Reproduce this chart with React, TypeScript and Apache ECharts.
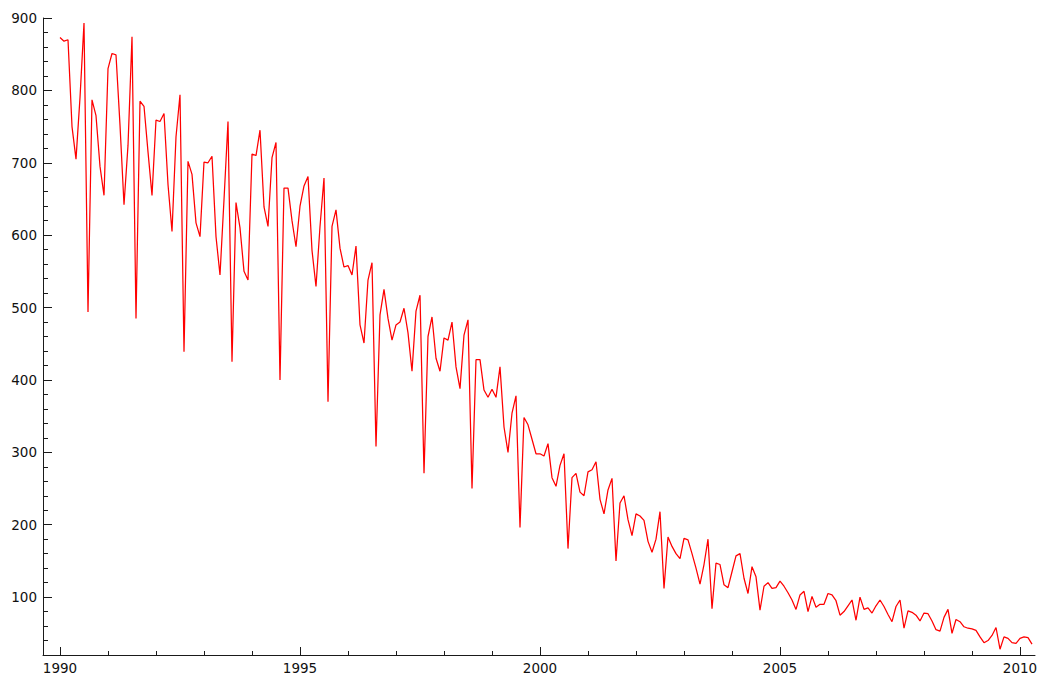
import React, { useEffect, useRef } from "react";
import * as echarts from "echarts";

const START_YEAR = 1990;

// Monthly values, Jan..Dec of each year
const y1990 = [873, 868, 870, 750, 705, 790, 893, 494, 787, 765, 695, 655];
const y1991 = [830, 851, 849, 752, 642, 724, 874, 485, 785, 778, 715, 655];
const y1992 = [759, 757, 768, 670, 605, 736, 794, 439, 702, 684, 617, 598];
const y1993 = [701, 700, 709, 598, 545, 649, 757, 425, 645, 610, 550, 538];
const y1994 = [712, 710, 745, 639, 612, 707, 728, 400, 665, 665, 620, 584];
const y1995 = [640, 668, 681, 579, 529, 612, 679, 370, 612, 635, 582, 556];
const y1996 = [558, 545, 585, 476, 451, 538, 562, 308, 490, 525, 485, 455];
const y1997 = [476, 480, 499, 465, 412, 495, 517, 271, 460, 487, 430, 412];
const y1998 = [458, 455, 480, 418, 388, 462, 483, 250, 428, 428, 386, 376];
const y1999 = [387, 376, 418, 335, 300, 354, 378, 196, 348, 338, 318, 298];
const y2000 = [298, 295, 312, 265, 253, 282, 298, 167, 265, 271, 245, 240];
const y2001 = [273, 276, 287, 235, 215, 248, 264, 150, 230, 240, 207, 185];
const y2002 = [215, 212, 206, 177, 162, 180, 218, 112, 183, 170, 160, 153];
const y2003 = [181, 179, 160, 140, 118, 145, 180, 84, 147, 145, 117, 113];
const y2004 = [135, 157, 160, 126, 105, 142, 128, 82, 115, 120, 112, 113];
const y2005 = [122, 115, 106, 96, 83, 103, 108, 80, 101, 86, 90, 90];
const y2006 = [105, 103, 95, 75, 80, 88, 96, 68, 100, 83, 85, 78];
const y2007 = [88, 96, 87, 76, 66, 87, 96, 57, 81, 79, 75, 67];
const y2008 = [78, 77, 67, 55, 53, 72, 83, 50, 69, 66, 59, 57];
const y2009 = [56, 54, 45, 37, 40, 47, 58, 28, 45, 43, 37, 36];
const y2010 = [43, 45, 44, 35];

const yearly = [
  y1990, y1991, y1992, y1993, y1994, y1995, y1996, y1997, y1998, y1999, y2000,
  y2001, y2002, y2003, y2004, y2005, y2006, y2007, y2008, y2009, y2010,
];

const xMajorTicks = [1990, 1995, 2000, 2005, 2010];
const xMinorTicks = [
  1991, 1992, 1993, 1994, 1996, 1997, 1998, 1999, 2001, 2002, 2003, 2004,
  2006, 2007, 2008, 2009,
];
const yMajorTicks = [100, 200, 300, 400, 500, 600, 700, 800, 900];
const yMinorTicks: number[] = [];
for (let v = 40; v <= 900; v += 20) if (v % 100 !== 0) yMinorTicks.push(v);

const X_MIN = 1989.6458;
const X_MAX = 2010.3125;
const Y_MIN = 20;
const Y_MAX = 900;

const AXIS_COLOR = "#1a1a1a";
const FONT = "DejaVu Sans";

export default function App() {
  const ref = useRef<HTMLDivElement>(null);
  useEffect(() => {
    const chart = echarts.init(ref.current!, null, { renderer: "svg" });
    const data: number[][] = [];
    yearly.forEach((vals, yi) =>
      vals.forEach((v, mi) => data.push([START_YEAR + yi + mi / 12, v]))
    );
    const baseX = {
      type: "value",
      min: X_MIN,
      max: X_MAX,
      position: "bottom",
      splitLine: { show: false },
    };
    const baseY = {
      type: "value",
      min: Y_MIN,
      max: Y_MAX,
      position: "left",
      splitLine: { show: false },
    };
    chart.setOption({
      animation: false,
      backgroundColor: "#ffffff",
      grid: { left: 43, right: 8, top: 18, bottom: 25, containLabel: false },
      xAxis: [
        {
          ...baseX,
          axisLine: { show: true, onZero: false, lineStyle: { color: AXIS_COLOR, width: 1 } },
          axisTick: {
            show: true,
            inside: true,
            length: 8,
            customValues: xMajorTicks,
            lineStyle: { color: AXIS_COLOR, width: 1 },
          },
          axisLabel: {
            show: true,
            customValues: xMajorTicks,
            formatter: (v: number) => String(Math.round(v)),
            fontFamily: FONT,
            fontSize: 13.5,
            color: "#111",
            margin: 6,
          },
        },
        {
          ...baseX,
          axisLine: { show: false, onZero: false },
          axisTick: {
            show: true,
            inside: true,
            length: 4,
            customValues: xMinorTicks,
            lineStyle: { color: AXIS_COLOR, width: 1 },
          },
          axisLabel: { show: false },
        },
      ],
      yAxis: [
        {
          ...baseY,
          axisLine: { show: true, onZero: false, lineStyle: { color: AXIS_COLOR, width: 1 } },
          axisTick: {
            show: true,
            inside: true,
            length: 9,
            customValues: yMajorTicks,
            lineStyle: { color: AXIS_COLOR, width: 1 },
          },
          axisLabel: {
            show: true,
            customValues: yMajorTicks,
            formatter: (v: number) => String(Math.round(v)),
            fontFamily: FONT,
            fontSize: 13.5,
            color: "#111",
            margin: 6,
          },
        },
        {
          ...baseY,
          axisLine: { show: false, onZero: false },
          axisTick: {
            show: true,
            inside: true,
            length: 5,
            customValues: yMinorTicks,
            lineStyle: { color: AXIS_COLOR, width: 1 },
          },
          axisLabel: { show: false },
        },
      ],
      series: [
        {
          type: "line",
          xAxisIndex: 0,
          yAxisIndex: 0,
          data,
          symbol: "none",
          showSymbol: false,
          lineStyle: { color: "#ff0000", width: 1.25 },
          itemStyle: { color: "#ff0000" },
        },
      ],
    });
    return () => chart.dispose();
  }, []);
  return (
    <div
      ref={ref}
      style={{
        position: "absolute",
        left: 0,
        top: 0,
        width: 1043,
        height: 680,
        background: "#fff",
      }}
    />
  );
}
